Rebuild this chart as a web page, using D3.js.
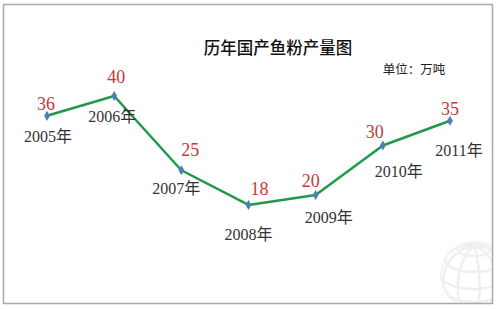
<!DOCTYPE html>
<html>
<head>
<meta charset="utf-8">
<script src="https://cdn.jsdelivr.net/npm/d3@7/dist/d3.min.js"></script>
<style>
  html, body { margin: 0; padding: 0; background: #fff; }
  svg { display: block; }
</style>
</head>
<body>
<div id="chart"></div>
<script>
const years = ["2005年", "2006年", "2007年", "2008年", "2009年", "2010年", "2011年"];
const output = [36, 40, 25, 18, 20, 30, 35];

const title = "历年国产鱼粉产量图";
const unit = "单位：万吨";

const width = 500, height = 309;

// label nudges (value labels above, year labels below)
const valueNudge = [[-1, -6], [2, -13], [9, -14], [11, -10], [-5, -8], [-8, -8], [0, -6]];
const yearNudge = [[1, 26], [-2, 26], [-5, 24], [0, 35], [13, 28], [16, 31], [9, 35]];

const svg = d3.select("#chart")
    .append("svg")
    .attr("width", width)
    .attr("height", height);

svg.append("defs").append("clipPath")
    .attr("id", "frame-clip")
    .append("rect")
    .attr("x", 4).attr("y", 5)
    .attr("width", 488).attr("height", 298);

// faint globe watermark in the corner
const globe = d3.geoOrthographic()
    .scale(33)
    .translate([474, 275])
    .rotate([-30, -25]);
const globePath = d3.geoPath(globe);

const wm = svg.append("g").attr("clip-path", "url(#frame-clip)");
wm.append("path")
    .datum(d3.geoGraticule().step([40, 30])())
    .attr("d", globePath)
    .attr("fill", "none")
    .attr("stroke", "#efefef")
    .attr("stroke-width", 2.5);
wm.append("path")
    .datum({type: "Sphere"})
    .attr("d", globePath)
    .attr("fill", "none")
    .attr("stroke", "#f3f3f3")
    .attr("stroke-width", 2);

svg.append("rect")
    .attr("x", 3.5).attr("y", 4.5)
    .attr("width", 489).attr("height", 299)
    .attr("fill", "none")
    .attr("stroke", "#a9a9a9")
    .attr("stroke-width", 1.5);

let xScale = d3.scalePoint()
    .domain(years)
    .range([47, 450]);

let yScale = d3.scaleLinear()
    .domain([0, 40])
    .range([294, 96]);

const line = d3.line()
    .x((d, i) => xScale(years[i]))
    .y(d => yScale(d));

svg.append("path")
    .datum(output)
    .attr("d", line)
    .attr("fill", "none")
    .attr("stroke", "#1e9a48")
    .attr("stroke-width", 2.5)
    .attr("stroke-linejoin", "round");

svg.selectAll("path.marker")
    .data(output)
    .enter()
    .append("path")
    .attr("class", "marker")
    .attr("d", d3.symbol().type(d3.symbolDiamond).size(30))
    .attr("transform", (d, i) => `translate(${xScale(years[i])}, ${yScale(d)})`)
    .attr("fill", "#4f7fb8");

svg.selectAll("text.value")
    .data(output)
    .enter()
    .append("text")
    .attr("class", "value")
    .attr("x", (d, i) => xScale(years[i]) + valueNudge[i][0])
    .attr("y", (d, i) => yScale(d) + valueNudge[i][1])
    .attr("text-anchor", "middle")
    .style("font-family", "'Liberation Serif', 'DejaVu Serif', serif")
    .style("font-size", "18px")
    .attr("fill", "#c5383a")
    .text(d => d);

svg.selectAll("text.year")
    .data(years)
    .enter()
    .append("text")
    .attr("class", "year")
    .attr("x", (d, i) => xScale(d) + yearNudge[i][0])
    .attr("y", (d, i) => yScale(output[i]) + yearNudge[i][1])
    .attr("text-anchor", "middle")
    .style("font-family", "'Liberation Serif', 'Noto Sans CJK SC', serif")
    .style("font-size", "16px")
    .attr("fill", "#333")
    .text(d => d);

svg.append("text")
    .attr("x", 278)
    .attr("y", 54)
    .attr("text-anchor", "middle")
    .style("font-family", "'Noto Sans CJK SC', sans-serif")
    .style("font-size", "16.5px")
    .style("font-weight", 500)
    .attr("fill", "#111")
    .text(title);

svg.append("text")
    .attr("x", 414)
    .attr("y", 74)
    .attr("text-anchor", "middle")
    .style("font-family", "'Noto Sans CJK SC', sans-serif")
    .style("font-size", "12.5px")
    .attr("fill", "#222")
    .text(unit);
</script>
</body>
</html>
